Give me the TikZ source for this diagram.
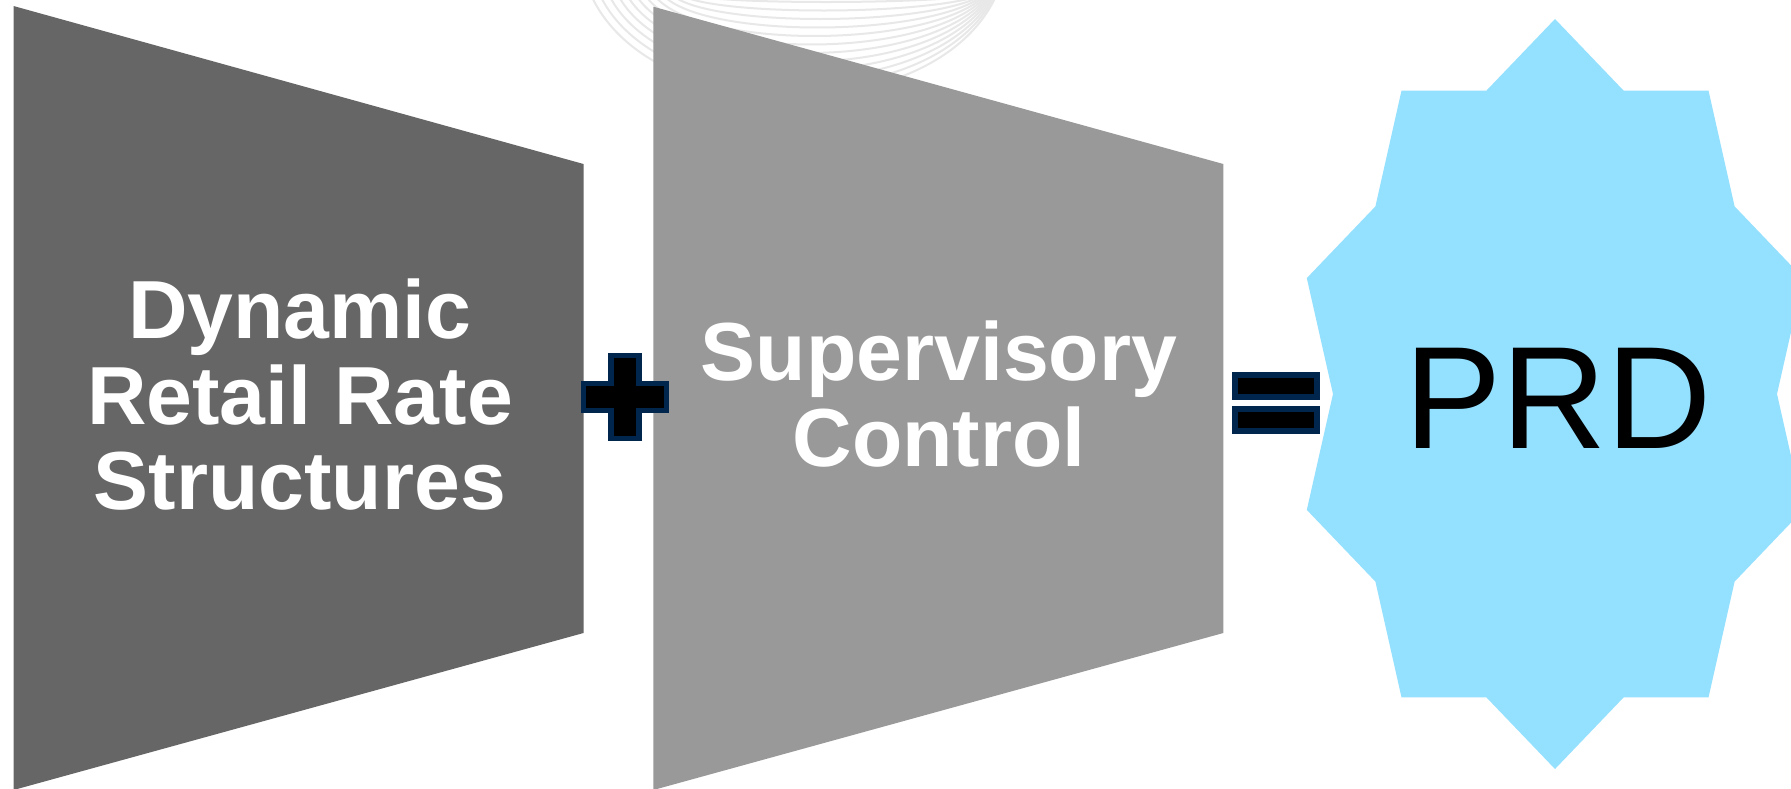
\documentclass[tikz,border=0pt]{standalone}
\usepackage{fontspec}
\setmainfont{Liberation Sans}
\definecolor{darkfill}{RGB}{102,102,102}
\definecolor{lightfill}{RGB}{153,153,153}
\definecolor{starblue}{RGB}{148,224,255}
\definecolor{signnavy}{RGB}{0,38,77}
\definecolor{arcgray}{RGB}{232,232,232}
\begin{document}
\begin{tikzpicture}[x=1pt,y=-1pt,
  arcline/.style={draw=arcgray, line width=2pt},
  signshape/.style={fill=black, draw=signnavy, line width=5.5pt, line join=miter},
  boldlabel/.style={text=white, font=\bfseries\fontsize{82.4}{85.5}\selectfont, align=center, inner sep=0pt, anchor=north},
  prdlabel/.style={text=black, font=\fontsize{145.8}{150}\selectfont, inner sep=0pt, anchor=base}]
\useasboundingbox (0,0) rectangle (1791,788);
\clip (0,0) rectangle (1791,788);
\fill[white] (0,0) rectangle (1791,788);
% faint background arcs
\foreach \i in {0,...,11} {
  \pgfmathsetmacro\L{690-9*\i}
  \pgfmathsetmacro\R{980+1.5*\i}
  \pgfmathsetmacro\h{1.333*(2+8.5*\i)+1.67}
  \pgfmathsetmacro\cA{\L+0.3*(795-\L)}
  \pgfmathsetmacro\cB{\R-0.3*(\R-795)}
  \draw[arcline] (\L,-5) .. controls (\cA,\h) and (\cB,\h) .. (\R,-5);
}
% trapezoids
\fill[darkfill] (13.5,6) -- (583.5,164) -- (583.5,633) -- (13.5,790) -- cycle;
\fill[lightfill] (653.3,6.7) -- (1223.3,164) -- (1223.3,633) -- (653.3,790) -- cycle;
\node[boldlabel] (drrs) at (300,278.8) {Dynamic\\Retail Rate\\Structures};
\node[boldlabel] (supc) at (939,321) {Supervisory\\Control};
% plus sign
\draw[signshape] (611,355.4) -- (639,355.4) -- (639,383.4) -- (666.6,383.4) -- (666.6,410.3) -- (639,410.3) -- (639,438.3) -- (611,438.3) -- (611,410.3) -- (583.4,410.3) -- (583.4,383.4) -- (611,383.4) -- cycle;
% equals sign
\draw[signshape] (1234.8,374.8) rectangle (1317.2,397.2);
\draw[signshape] (1234.8,408.8) rectangle (1317.2,431.2);
% star
\fill[starblue] (1555,19) -- (1486.4,90.6) -- (1401.5,90.6) -- (1375.4,206.4) -- (1306.8,278.1) -- (1333,394) -- (1306.8,509.9) -- (1375.4,581.6) -- (1401.5,697.4) -- (1486.4,697.4) -- (1555,769) -- (1623.6,697.4) -- (1708.5,697.4) -- (1734.6,581.6) -- (1803.2,509.9) -- (1777,394) -- (1803.2,278.1) -- (1734.6,206.4) -- (1708.5,90.6) -- (1623.6,90.6) -- cycle;
\node[prdlabel] (prd) at (1558,448.3) {PRD};
\end{tikzpicture}
\end{document}
